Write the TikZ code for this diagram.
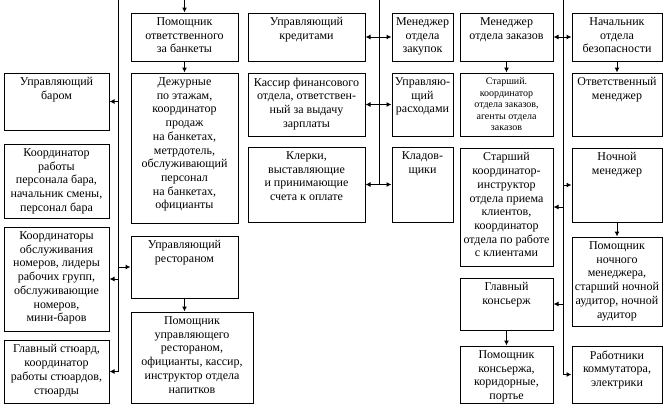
\documentclass[tikz,border=0pt]{standalone}
\usepackage{fontspec}
\setmainfont{Liberation Serif}
\usetikzlibrary{arrows.meta,positioning}

\begin{document}
\begin{tikzpicture}[x=1pt,y=-1pt,
		box/.style 2 args={draw,line width=1pt,minimum width=#1pt,minimum height=#2pt,inner sep=0pt},
		txt/.style={anchor=north,align=center,inner xsep=1pt,inner ysep=5pt,font=\fontsize{12}{13.7}\selectfont},
		small/.style={txt,font=\fontsize{10}{11.6}\selectfont},
		bus/.style={line width=1pt},
		arr/.style={line width=1pt,-{Latex[length=5pt,width=5pt]}},
		arrs/.style={line width=1pt,{Latex[length=5pt,width=5pt]}-{Latex[length=5pt,width=5pt]}}]
			\useasboundingbox (0,0) rectangle (664,405);
			% left column
			\node[box={105}{57},label={[txt]north:{Управляющий\\баром}}] (bar) at (56.5,101.5) {};
			\node[box={105}{74},label={[txt]north:{Координатор\\работы\\персонала бара,\\начальник смены,\\персонал бара}}] (barstaff) at (56.5,181) {};
			\node[box={105}{104},label={[txt]north:{Координаторы\\обслуживания\\номеров, лидеры\\рабочих групп,\\обслуживающие\\номеров,\\мини-баров}}] (rooms) at (56.5,279) {};
			\node[box={105}{63},label={[txt]north:{Главный стюард,\\координатор\\работы стюардов,\\стюарды}}] (steward) at (56.5,371.5) {};
			% banquets and restaurant
			\node[box={107}{48},label={[txt]north:{Помощник\\ответственного\\за банкеты}}] (banq) at (184.5,37) {};
			\node[box={107}{150},label={[txt]north:{Дежурные\\по этажам,\\координатор\\продаж\\на банкетах,\\метрдотель,\\обслуживающий\\персонал\\на банкетах,\\официанты}}] (duty) at (184.5,148) {};
			\node[box={107}{62},label={[txt]north:{Управляющий\\рестораном}}] (rest) at (184.5,267) {};
			\node[box={122}{91},label={[txt]north:{Помощник\\управляющего\\рестораном,\\официанты, кассир,\\инструктор отдела\\напитков}}] (resthelp) at (192,357.5) {};
			% finance
			\node[box={117}{48},label={[txt]north:{Управляющий\\кредитами}}] (credit) at (306.5,37) {};
			\node[box={117}{63},label={[txt]north:{Кассир финансового\\отдела, ответствен-\\ный за выдачу\\зарплаты}}] (cashier) at (306.5,104.5) {};
			\node[box={117}{75},label={[txt]north:{Клерки,\\выставляющие\\и принимающие\\счета к оплате}}] (clerks) at (306.5,184.5) {};
			\node[box={61}{48},label={[txt]north:{Менеджер\\отдела\\закупок}}] (purch) at (422.5,37) {};
			\node[box={61}{63},label={[txt]north:{Управляю-\\щий\\расходами}}] (expense) at (422.5,104.5) {};
			\node[box={61}{75},label={[txt]north:{Кладов-\\щики}}] (store) at (422.5,184.5) {};
			% reception
			\node[box={93}{48},label={[txt]north:{Менеджер\\отдела заказов}}] (orders) at (506.5,37) {};
			\node[box={93}{63},label={[small]north:{Старший.\\координатор\\отдела заказов,\\агенты отдела\\заказов}}] (ordstaff) at (506.5,104.5) {};
			\node[box={93}{118},label={[txt]north:{Старший\\координатор-\\инструктор\\отдела приема\\клиентов,\\координатор\\отдела по работе\\с клиентами}}] (recept) at (506.5,207) {};
			\node[box={93}{52},label={[txt]north:{Главный\\консьерж}}] (conc) at (506.5,304) {};
			\node[box={93}{57},label={[txt]north:{Помощник\\консьержа,\\коридорные,\\портье}}] (concstaff) at (506.5,374.5) {};
			% security and night
			\node[box={90}{48},label={[txt]north:{Начальник\\отдела\\безопасности}}] (secur) at (617,37) {};
			\node[box={90}{63},label={[txt]north:{Ответственный\\менеджер}}] (resp) at (617,104.5) {};
			\node[box={90}{74},label={[txt]north:{Ночной\\менеджер}}] (night) at (617,185) {};
			\node[box={90}{89},label={[txt]north:{Помощник\\ночного\\менеджера,\\старший ночной\\аудитор, ночной\\аудитор}}] (nightaux) at (617,281.5) {};
			\node[box={90}{57},label={[txt]north:{Работники\\коммутатора,\\электрики}}] (switch) at (617,374.5) {};
			% connectors
			\coordinate (top) at (0,0);
			\coordinate (busA) at (118,0);
			\coordinate (busC) at (379,0);
			\coordinate (busD) at (563,0);
			\draw[bus] (busA) -- (busA |- steward.east);
			\foreach \n in {bar,rooms,steward}
				\draw[arr] (busA |- \n.east) -- (\n.east);
			\draw[arr] (busA |- rest.west) -- (rest.west);
			\draw[arr] (banq.north |- top) -- (banq.north);
			\draw[arr] (rest.south) -- (rest.south |- resthelp.north);
			\draw[bus] (busC) -- (busC |- clerks.east);
			\foreach \a/\b in {credit/purch,cashier/expense,clerks/store}
				\draw[arrs] (\a) -- (\b);
			\draw[bus] (busD) -- (busD |- switch.west);
			\draw[arrs] (orders) -- (secur);
			\foreach \n in {night,switch}
				\draw[arr] (busD |- \n.west) -- (\n.west);
			\foreach \n in {recept,conc}
				\draw[arr] (busD |- \n.east) -- (\n.east);
			\foreach \a/\b in {banq/duty,orders/ordstaff,conc/concstaff,secur/resp,night/nightaux}
				\draw[arr] (\a) -- (\b);
		\end{tikzpicture}
\end{document}
